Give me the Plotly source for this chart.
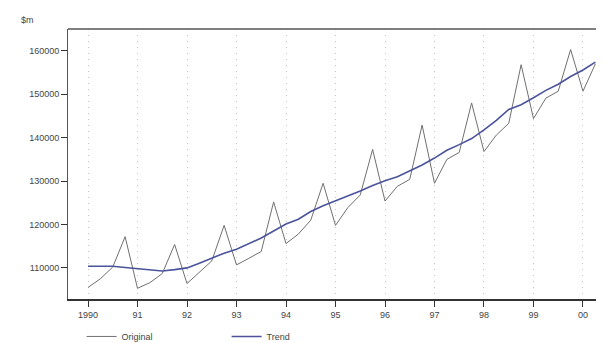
import plotly.graph_objects as go

# Quarterly time index (1990 Q1 .. 2000 Q2)
quarters = [1990 + i * 0.25 for i in range(42)]

original = [
    105500, 107500, 110200, 117200,
    105300, 106600, 108700, 115400,
    106400, 108900, 111600, 119800,
    110700, 112200, 113800, 125200,
    115600, 117800, 121000, 129500,
    119800, 123900, 126800, 137300,
    125400, 128800, 130400, 142900,
    129500, 135000, 136600, 148000,
    136800, 140600, 143300, 156800,
    144400, 149100, 150700, 160300,
    150700, 157000,
]

trend = [
    110400, 110400, 110400, 110100,
    109800, 109600, 109300, 109600,
    110000, 111100, 112200, 113400,
    114300, 115600, 116900, 118500,
    120100, 121200, 123000, 124300,
    125400, 126600, 127700, 129000,
    130100, 131000, 132400, 133700,
    135300, 137100, 138400, 139800,
    141800, 144000, 146500, 147600,
    149200, 150900, 152300, 154100,
    155600, 157400,
]

year_ticks = list(range(1990, 2001))
year_labels = ["1990", "91", "92", "93", "94", "95", "96", "97", "98", "99", "00"]
y_ticks = [110000, 120000, 130000, 140000, 150000, 160000]

fig = go.Figure()
fig.add_trace(go.Scatter(
    x=quarters, y=original, mode="lines", name="Original",
    line=dict(color="#707070", width=1),
))
fig.add_trace(go.Scatter(
    x=quarters, y=trend, mode="lines", name="Trend",
    line=dict(color="#4a539c", width=1.6),
))

font = dict(family="Liberation Sans, Arial, sans-serif", size=9, color="#444444")

fig.update_layout(
    width=604, height=343,
    margin=dict(l=60, r=0, t=21, b=44),
    paper_bgcolor="white", plot_bgcolor="white",
    font=font,
    showlegend=True,
    legend=dict(
        orientation="h", x=0.025, y=-0.085, xanchor="left", yanchor="top",
        entrywidth=100, entrywidthmode="pixels",
        font=dict(size=9, color="#444444"),
        bgcolor="rgba(0,0,0,0)",
    ),
    xaxis=dict(
        range=[1989.596, 2000.586],
        tickvals=year_ticks, ticktext=year_labels,
        ticks="outside", ticklen=6, tickcolor="#333333", tickwidth=1,
        showline=True, linecolor="#333333", linewidth=1.5, mirror=False,
        showgrid=True, gridcolor="#c4c4c4", griddash="1px,5px", gridwidth=1,
        zeroline=False,
    ),
    yaxis=dict(
        range=[102840, 165030],
        tickvals=y_ticks, tickformat="d",
        ticks="outside", ticklen=6, tickcolor="#333333", tickwidth=1,
        showline=True, linecolor="#555555", linewidth=1, mirror=False,
        showgrid=False, zeroline=False,
    ),
    shapes=[dict(
        type="line", xref="paper", yref="paper", x0=0, x1=1, y0=1, y1=1,
        line=dict(color="#555555", width=1.5),
    )],
    annotations=[dict(
        text="$m", xref="paper", yref="paper", x=-0.075, y=1.0,
        xanchor="center", yanchor="bottom", showarrow=False,
        font=dict(size=9, color="#444444"), yshift=2,
    )],
)

fig.write_html("out.html")
